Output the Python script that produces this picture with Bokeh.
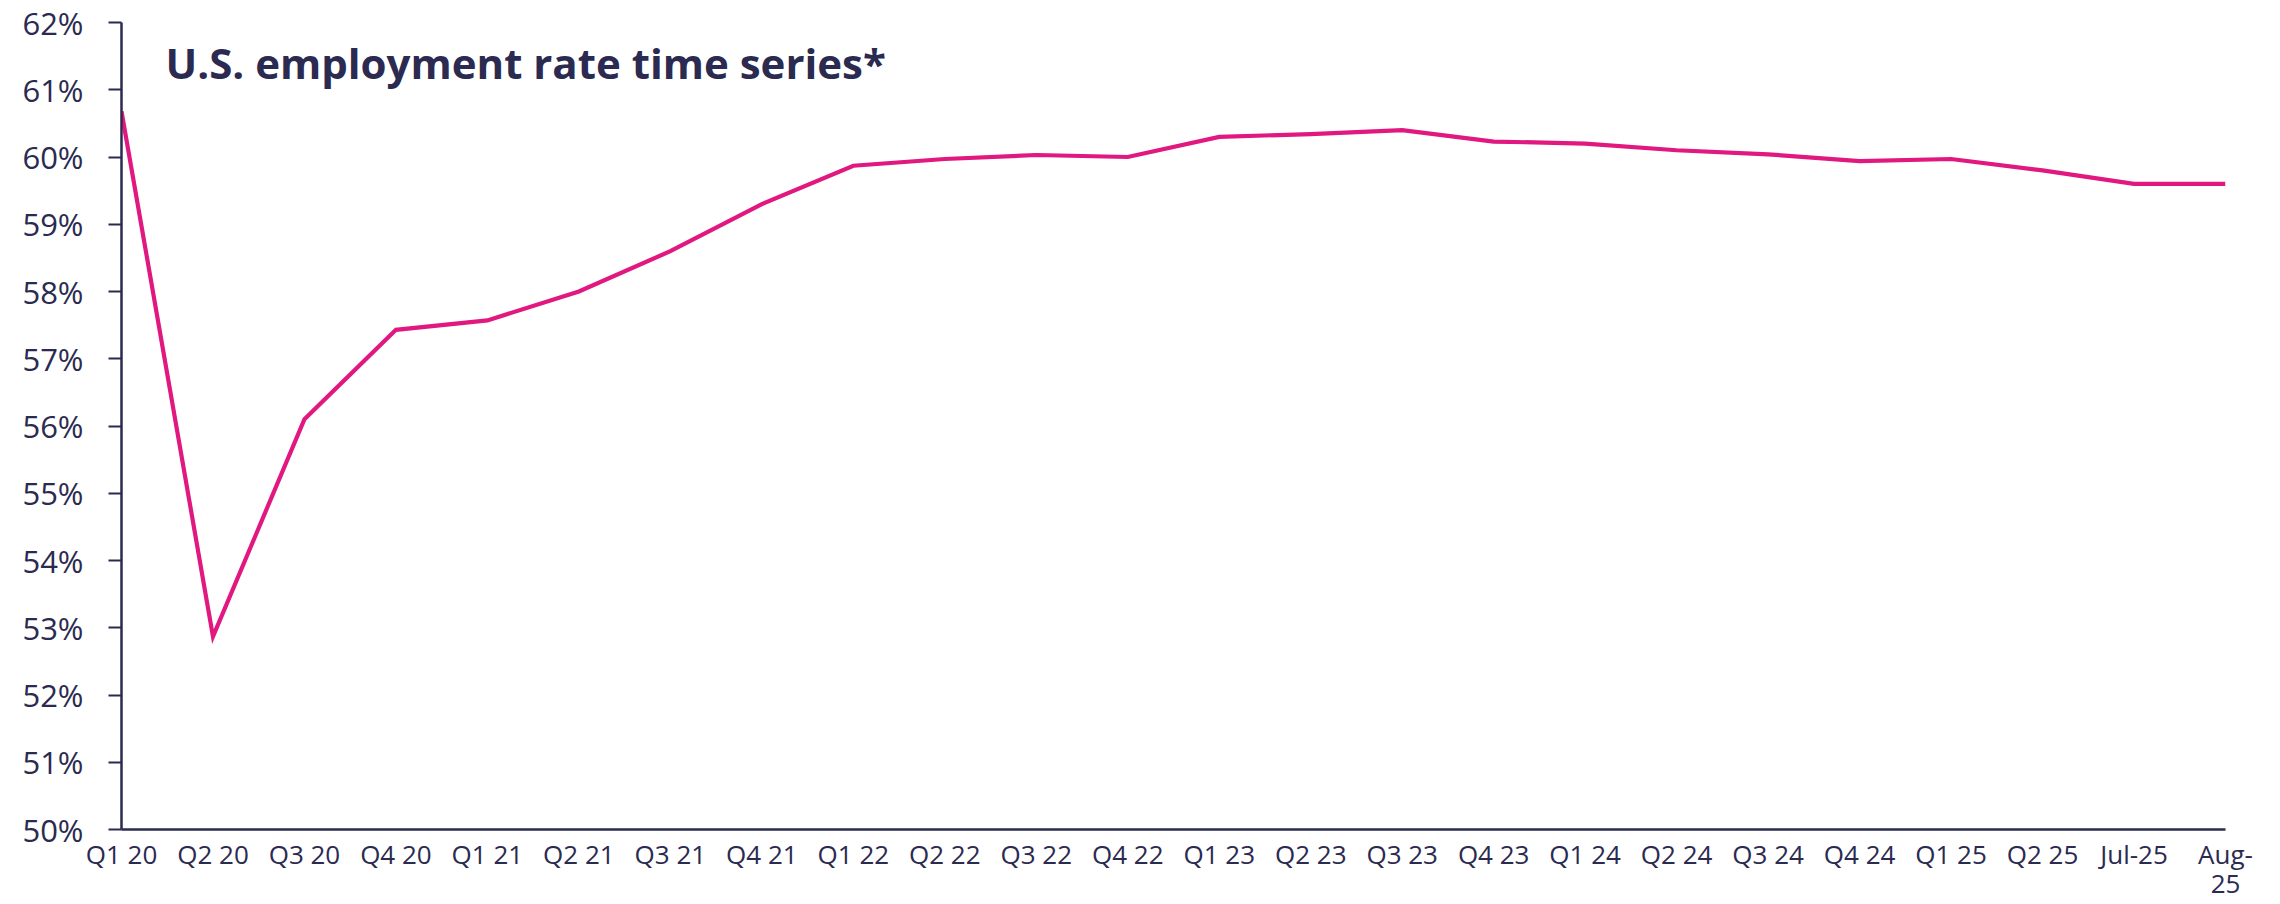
from bokeh.plotting import figure
from bokeh.models import Range1d, FixedTicker, Label, ColumnDataSource
from bokeh.embed import file_html
from bokeh.resources import INLINE

categories = ["Q1 20", "Q2 20", "Q3 20", "Q4 20", "Q1 21", "Q2 21", "Q3 21", "Q4 21",
              "Q1 22", "Q2 22", "Q3 22", "Q4 22", "Q1 23", "Q2 23", "Q3 23", "Q4 23",
              "Q1 24", "Q2 24", "Q3 24", "Q4 24", "Q1 25", "Q2 25", "Jul-25", "Aug-\n25"]
employment_rate = [60.68, 52.87, 56.1, 57.43, 57.57, 58.0, 58.6, 59.3,
                   59.87, 59.97, 60.03, 60.0, 60.3, 60.34, 60.4, 60.23,
                   60.2, 60.1, 60.04, 59.94, 59.97, 59.8, 59.6, 59.6]
y_ticks = list(range(50, 63))
title_text = "U.S. employment rate time series*"

NAVY = "#2b2a50"
PINK = "#e0187f"
FONT = "Open Sans"

idx = list(range(len(categories)))
src = ColumnDataSource(data=dict(x=idx, y=employment_rate))

p = figure(width=2280, height=904, output_backend="svg", toolbar_location=None,
           x_range=Range1d(0, len(categories) - 1), y_range=Range1d(50, 62),
           min_border_left=121, min_border_right=55, min_border_top=22, min_border_bottom=73)
p.outline_line_color = None
p.grid.grid_line_color = None
p.background_fill_color = "white"
p.border_fill_color = "white"

p.line("x", "y", source=src, line_color=PINK, line_width=4.2, line_join="miter")

# x axis
p.xaxis.ticker = FixedTicker(ticks=idx)
p.xaxis.major_label_overrides = {i: c for i, c in zip(idx, categories)}
p.xaxis.major_tick_out = 0
p.xaxis.major_tick_in = 0
p.xaxis.minor_tick_out = 0
p.xaxis.minor_tick_in = 0
p.xaxis.axis_line_color = NAVY
p.xaxis.axis_line_width = 2.5
p.xaxis.major_label_text_font = FONT
p.xaxis.major_label_text_font_size = "26px"
p.xaxis.major_label_text_color = NAVY
p.xaxis.major_label_text_line_height = 0.82
p.xaxis.major_label_standoff = 6

# y axis
p.yaxis.ticker = FixedTicker(ticks=y_ticks)
p.yaxis.major_label_overrides = {v: f"{v}%" for v in y_ticks}
p.yaxis.major_tick_out = 13
p.yaxis.major_tick_in = 0
p.yaxis.minor_tick_out = 0
p.yaxis.minor_tick_in = 0
p.yaxis.major_tick_line_color = NAVY
p.yaxis.major_tick_line_width = 2
p.yaxis.axis_line_color = NAVY
p.yaxis.axis_line_width = 2.5
p.yaxis.major_label_text_font = FONT
p.yaxis.major_label_text_font_size = "31px"
p.yaxis.major_label_text_color = NAVY
p.yaxis.major_label_standoff = 25

title = Label(x=0.48, y=61.41, text=title_text, text_font=FONT, text_font_size="42px",
              text_font_style="bold", text_color=NAVY, text_baseline="alphabetic",
              text_align="left")
p.add_layout(title)

open("out.html", "w").write(file_html(p, INLINE))
